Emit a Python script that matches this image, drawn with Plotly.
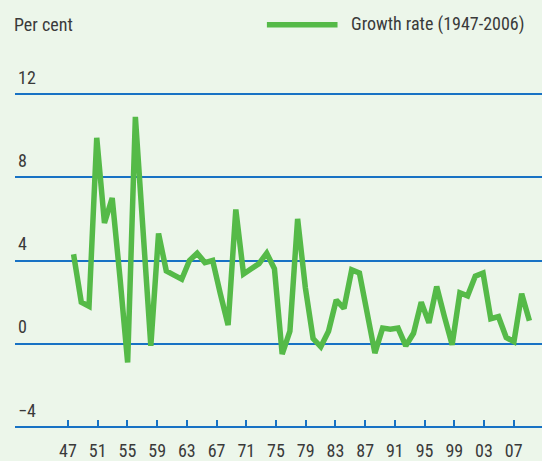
import plotly.graph_objects as go

# ---- data ----
YEARS = list(range(1947, 2007))
GROWTH = [4.3, 2.0, 1.8, 9.9, 5.8, 7.0, 3.2, -0.9, 10.9, 5.3,
          -0.1, 5.3, 3.5, 3.3, 3.1, 4.0, 4.35, 3.9, 4.0, 2.4,
          0.9, 6.45, 3.35, 3.6, 3.85, 4.35, 3.6, -0.5, 0.6, 6.0,
          2.7, 0.25, -0.15, 0.6, 2.1, 1.7, 3.55, 3.4, 1.4, -0.45,
          0.75, 0.7, 0.75, -0.1, 0.5, 2.0, 1.0, 2.75, 1.3, -0.05,
          2.45, 2.3, 3.25, 3.4, 1.2, 1.3, 0.3, 0.1, 2.4, 1.1]
TICK_YEARS = list(range(1947, 2008, 4))
TICK_LABELS = [str(y)[-2:] for y in TICK_YEARS]
Y_TICKS = [-4, 0, 4, 8, 12]
SERIES_NAME = "Growth rate (1947-2006)"

GREEN = "#55BA48"
BLUE = "#1872C4"
BG = "#ECF6EA"
TXT = "#3a3a3a"
FONT = "Liberation Sans Narrow, Arial Narrow, Roboto Condensed, sans-serif"
FS = 18

# tick axis is drawn on a slightly different scale than the data points
tick_pos = [1946.28 + (y - 1947) * 0.9615 for y in TICK_YEARS]

PLOT_H = 341
fig = go.Figure()
fig.add_trace(go.Scatter(x=YEARS, y=GROWTH, mode="lines", name=SERIES_NAME,
                         line=dict(color=GREEN, width=5.5), showlegend=False))

fig.update_layout(
    width=542, height=461, autosize=False,
    margin=dict(l=15, r=0, t=92, b=28),
    paper_bgcolor=BG, plot_bgcolor=BG,
    font=dict(family=FONT, size=FS, color=TXT),
    xaxis=dict(range=[1939.42, 2007.63], tickvals=tick_pos, ticktext=TICK_LABELS,
               showgrid=False, zeroline=False, showline=False,
               anchor="free", position=2.1 / PLOT_H,
               ticks="inside", ticklen=7, tickwidth=1.5, tickcolor=BLUE,
               ticklabelstandoff=11,
               tickfont=dict(family=FONT, size=FS, color=TXT)),
    yaxis=dict(range=[-4.1, 12.1], tickvals=Y_TICKS, showgrid=True, gridcolor=BLUE,
               gridwidth=1.5, zeroline=False, showline=False, ticks="",
               ticklabelposition="inside top", ticklabeloverflow="allow",
               ticklabelshift=-4,
               tickfont=dict(family=FONT, size=FS, color=TXT)),
    annotations=[
        dict(text="Per cent", xref="paper", yref="paper", x=-0.005, y=1.0,
             xanchor="left", yanchor="middle", yshift=68, showarrow=False,
             font=dict(family=FONT, size=FS, color=TXT)),
        dict(text=SERIES_NAME, xref="paper", yref="paper", x=0.633, y=1.0,
             xanchor="left", yanchor="middle", yshift=68, showarrow=False,
             font=dict(family=FONT, size=FS, color=TXT)),
    ],
    shapes=[dict(type="line", xref="paper", yref="paper",
                 x0=0.478, x1=0.612, y0=1 + 68 / PLOT_H, y1=1 + 68 / PLOT_H,
                 line=dict(color=GREEN, width=5.5))],
)

fig.write_html("out.html", config={"displayModeBar": False},
               post_script="document.body.style.margin='0';")
